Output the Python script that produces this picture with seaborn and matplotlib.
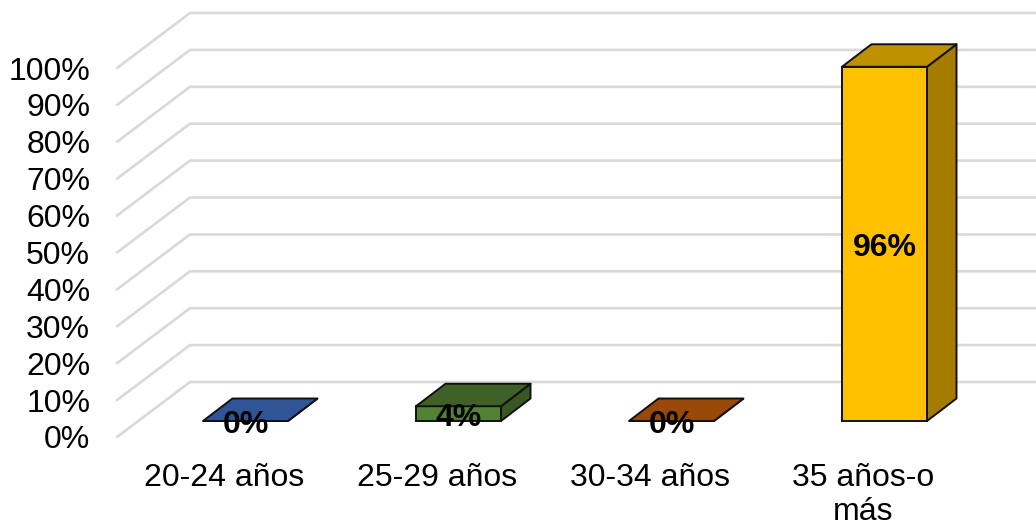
import matplotlib
matplotlib.use("Agg")
import matplotlib.pyplot as plt
from matplotlib.patches import Polygon
from matplotlib.transforms import Affine2D
import seaborn as sns
import pandas as pd

categories = ["20-24 años", "25-29 años", "30-34 años", "35 años-o\nmás"]
values = [0, 4, 0, 96]
value_labels = ["0%", "4%", "0%", "96%"]
y_ticks = [0, 10, 20, 30, 40, 50, 60, 70, 80, 90, 100]

front_colors = ["#4472C4", "#548235", "#C55A11", "#FFC000"]
top_colors = ["#2F5597", "#3F6026", "#984807", "#BF9000"]
side_colors = ["#1F3864", "#385723", "#6E3305", "#A67C00"]

W, H = 1036, 527
sns.set_theme(style="white")
plt.rcParams["font.family"] = ["Liberation Sans", "DejaVu Sans"]

fig = plt.figure(figsize=(W / 100, H / 100), dpi=100)
# front plane of the fake 3d box, in pixels: x 118-970, y 68-437 from the top
ax = fig.add_axes([118 / W, 1 - 437 / H, 852 / W, 369 / H])
ax.patch.set_alpha(0)

df = pd.DataFrame({"cat": categories, "val": values})
sns.barplot(data=df, x="cat", y="val", hue="cat", palette=front_colors, legend=False,
            width=85 / 213, saturation=1, ax=ax, zorder=3)
ax.set_xlim(-0.5, 3.5)
ax.set_ylim(0, 100)

to_px = ax.transData
bar_shift = (21, 16)      # bars sit part way into the floor
depth = (29.5, 22.5)      # depth of a bar
wall = (72, 55)           # depth of the whole box


def px(x, y):
    return to_px.transform((x, y))


# walls
for t in y_ticks:
    x0, y0 = px(-0.5, t)
    ax.plot([x0 - 1, x0 + wall[0], W + 5], [y0, y0 + wall[1], y0 + wall[1]],
            transform=None, color="#D9D9D9", lw=1.9, clip_on=False, zorder=1)

shift = Affine2D().translate(bar_shift[0], bar_shift[1])
edge = "#111111"
for i, bar in enumerate(ax.patches):
    v = values[i]
    bar.set_transform(ax.transData + shift)
    bar.set_clip_on(False)
    bar.set_edgecolor(edge)
    bar.set_linewidth(1.4)
    xa, ya = px(bar.get_x(), 0)
    xb, yb = px(bar.get_x() + bar.get_width(), v)
    xa, xb = xa + bar_shift[0], xb + bar_shift[0]
    ya, yb = ya + bar_shift[1], yb + bar_shift[1]
    top = [(xa, yb), (xb, yb), (xb + depth[0], yb + depth[1]), (xa + depth[0], yb + depth[1])]
    side = [(xb, ya), (xb + depth[0], ya + depth[1]), (xb + depth[0], yb + depth[1]), (xb, yb)]
    for pts, c in ((side, side_colors[i]), (top, top_colors[i])):
        ax.add_patch(Polygon(pts, closed=True, transform=None, facecolor=c,
                             edgecolor=edge, lw=1.4, joinstyle="round", clip_on=False, zorder=4))
    ax.text((xa + xb) / 2, (ya + yb) / 2 - 4, value_labels[i], transform=None, ha="center", va="center",
            fontsize=23, fontweight="bold", color="black", zorder=6)

ax.set_yticks(y_ticks)
ax.set_yticklabels([f"{t}%" for t in y_ticks], fontsize=23, color="black")
ax.tick_params(axis="y", length=0, pad=20)
ax.tick_params(axis="x", length=0, pad=18.5, labelsize=23, labelcolor="black")
ax.set_xlabel("")
ax.set_ylabel("")
sns.despine(ax=ax, left=True, bottom=True)

fig.savefig("out.png", dpi=100)
